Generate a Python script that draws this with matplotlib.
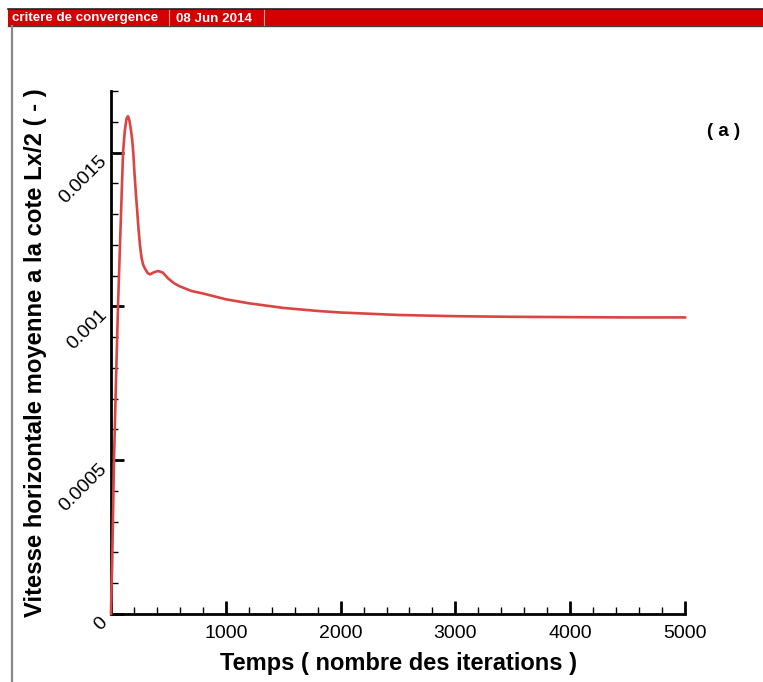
import matplotlib
matplotlib.use("Agg")
import matplotlib.pyplot as plt
from matplotlib.ticker import MultipleLocator, FixedLocator
from matplotlib.patches import Rectangle
from matplotlib.lines import Line2D

# ---- data ----
iterations = [0, 5, 10, 26, 45, 61, 80, 105, 120, 135, 148, 160, 175, 185,
              194, 205, 218, 229, 240, 252, 265, 280, 300, 320, 340, 370, 410,
              450, 500, 550, 600, 700, 800, 1000, 1200, 1500, 1800, 2000, 2500,
              3000, 3500, 4000, 4500, 5000]
velocity = [0.0, 0.0001, 0.00016, 0.0005, 0.00078, 0.001, 0.00122, 0.0015,
            0.00157, 0.00161, 0.001618, 0.001605, 0.00157, 0.00154, 0.0015,
            0.00143, 0.00136, 0.001306, 0.00125, 0.00120, 0.00116, 0.001135,
            0.00112, 0.001108, 0.001104, 0.00111, 0.001115, 0.00111, 0.00109,
            0.001075, 0.001065, 0.00105, 0.001042, 0.001023, 0.00101,
            0.000995, 0.000985, 0.00098, 0.000972, 0.000968, 0.000966,
            0.000965, 0.000964, 0.000964]
x_major = [0, 1000, 2000, 3000, 4000, 5000]
x_labels = ["", "1000", "2000", "3000", "4000", "5000"]
y_major = [0, 0.0005, 0.001, 0.0015]
y_labels = ["0", "0.0005", "0.001", "0.0015"]
header_title = "critere de convergence"
header_date = "08 Jun 2014"

plt.rcParams['font.family'] = ['Liberation Sans', 'DejaVu Sans']

W, H = 763, 682
fig = plt.figure(figsize=(W / 100, H / 100), dpi=100)

def fx(px):
    return px / W

def fy(py):
    return 1 - py / H

# header bar
fig.patches.append(Rectangle((fx(8), fy(26)), 1 - fx(8), fy(9) - fy(26),
                             transform=fig.transFigure, facecolor='#d40000',
                             edgecolor='none', zorder=1))
fig.lines.append(Line2D([fx(8), 1], [fy(9), fy(9)], transform=fig.transFigure,
                        color='#222222', lw=1.2))
fig.lines.append(Line2D([fx(8), 1], [fy(26), fy(26)], transform=fig.transFigure,
                        color='#444444', lw=1.0))
for sx in (168.5, 263.5):
    fig.lines.append(Line2D([fx(sx), fx(sx)], [fy(10), fy(25)],
                            transform=fig.transFigure, color='#f0a0a0', lw=0.8))
fig.lines.append(Line2D([fx(12), fx(12)], [fy(26), 0], transform=fig.transFigure,
                        color='#888888', lw=1.6))
fig.text(fx(12), fy(21.5), header_title, color='white', fontsize=9.6,
         fontweight='bold', va='baseline', ha='left')
fig.text(fx(176), fy(21.5), header_date, color='white', fontsize=9.6,
         fontweight='bold', va='baseline', ha='left')

ax = fig.add_axes([fx(111), fy(614), fx(685) - fx(111), fy(91) - fy(614)])
ax.plot(iterations, velocity, color='#dc4444', lw=1.9, solid_joinstyle='round',
        zorder=3, clip_on=False)
ax.set_xlim(0, 5000)
ax.set_ylim(0, 0.0017)

for s in ('top', 'right'):
    ax.spines[s].set_visible(False)
for s in ('left', 'bottom'):
    ax.spines[s].set_linewidth(2.0)

ax.xaxis.set_major_locator(FixedLocator(x_major))
ax.set_xticklabels(x_labels)
ax.xaxis.set_minor_locator(MultipleLocator(200))
ax.yaxis.set_major_locator(FixedLocator(y_major))
ax.set_yticklabels(y_labels)
ax.yaxis.set_minor_locator(MultipleLocator(0.0001))

ax.tick_params(which='major', direction='in', length=9.5, width=2.0,
               labelsize=14, pad=8)
ax.tick_params(which='minor', direction='in', length=5, width=1.0)
ax.tick_params(axis='y', which='major', pad=9)
for lab in ax.get_yticklabels():
    lab.set_rotation(45)
    lab.set_rotation_mode('anchor')
    lab.set_ha('right')
    lab.set_va('top')

ax.set_xlabel("Temps ( nombre des iterations )", fontsize=17,
              fontweight='bold', labelpad=7)
ax.set_ylabel("Vitesse horizontale moyenne a la cote Lx/2 ( - )", fontsize=17.2,
              fontweight='bold')
ax.yaxis.set_label_coords((47 - 111) / (685 - 111), 0.5)

fig.text(fx(724), fy(131), "( a )", fontsize=13.5, fontweight='bold',
         ha='center', va='center')

fig.savefig("out.png", dpi=100)
